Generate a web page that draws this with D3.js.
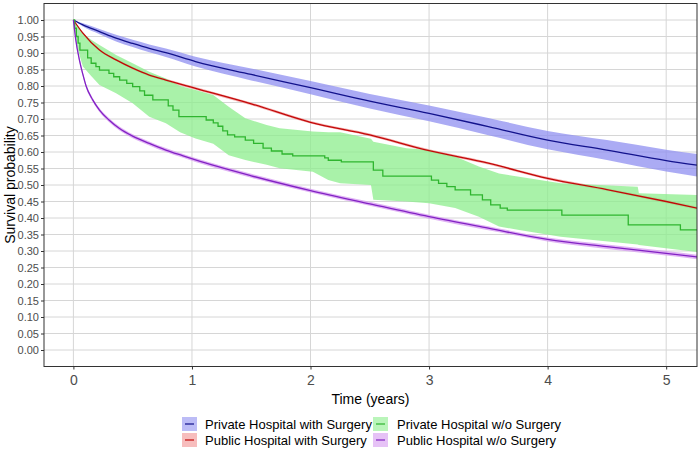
<!DOCTYPE html>
<html>
<head>
<meta charset="utf-8">
<script src="https://cdn.jsdelivr.net/npm/d3@7"></script>
<style>
  body { margin: 0; background: #fff; }
  text { font-family: Arial, "Liberation Sans", sans-serif; }
</style>
</head>
<body>
<script>
// ---- data ----
const xTicks = [0, 1, 2, 3, 4, 5];
const yTicks = [0, 0.05, 0.1, 0.15, 0.2, 0.25, 0.3, 0.35, 0.4, 0.45, 0.5,
                0.55, 0.6, 0.65, 0.7, 0.75, 0.8, 0.85, 0.9, 0.95, 1];

const seriesNames = ["Private Hospital with Surgery", "Public Hospital with Surgery",
                     "Private Hospital w/o Surgery", "Public Hospital w/o Surgery"];

// private hospital with surgery
const privSurgT  = [0, 0.08, 0.22, 0.36, 0.5, 0.64, 0.78, 1.03, 1.5, 2, 2.5, 3, 3.5, 4, 4.5, 5, 5.26];
const privSurgS  = [1, 0.985, 0.965, 0.945, 0.929, 0.914, 0.901, 0.874, 0.835, 0.795, 0.754, 0.717, 0.677, 0.636, 0.606, 0.574, 0.56];
const privSurgLo = [1, 0.980, 0.957, 0.935, 0.918, 0.902, 0.888, 0.859, 0.817, 0.775, 0.732, 0.693, 0.651, 0.608, 0.576, 0.541, 0.526];
const privSurgHi = [1, 0.990, 0.973, 0.955, 0.940, 0.926, 0.914, 0.889, 0.853, 0.815, 0.776, 0.741, 0.703, 0.664, 0.636, 0.607, 0.594];

// public hospital with surgery
const pubSurgT  = [0, 0.08, 0.22, 0.36, 0.5, 0.64, 0.78, 1.03, 1.5, 2, 2.5, 3, 3.5, 4, 4.5, 5, 5.26];
const pubSurgS  = [1, 0.96, 0.909, 0.879, 0.854, 0.833, 0.818, 0.793, 0.746, 0.69, 0.652, 0.604, 0.566, 0.52, 0.486, 0.45, 0.43];
const pubSurgLo = [1, 0.957, 0.905, 0.875, 0.850, 0.829, 0.814, 0.789, 0.742, 0.686, 0.648, 0.600, 0.562, 0.516, 0.482, 0.445, 0.425];
const pubSurgHi = [1, 0.963, 0.913, 0.883, 0.858, 0.837, 0.822, 0.797, 0.750, 0.694, 0.656, 0.608, 0.570, 0.524, 0.490, 0.455, 0.435];

// private hospital without surgery (step curve)
const privNoT = [0, 0.01, 0.025, 0.04, 0.055, 0.12, 0.15, 0.19, 0.22, 0.3, 0.34, 0.39, 0.45, 0.5, 0.56,
                 0.6, 0.67, 0.8, 0.84, 0.89, 1.12, 1.18, 1.22, 1.26, 1.3, 1.36, 1.45, 1.52, 1.6, 1.67,
                 1.76, 1.85, 2.12, 2.15, 2.26, 2.53, 2.61, 3.02, 3.08, 3.15, 3.22, 3.35, 3.45, 3.52,
                 3.6, 3.66, 4.12, 4.68, 5.12, 5.26];
const privNoS = [1, 0.975, 0.95, 0.93, 0.909, 0.885, 0.869, 0.859, 0.848, 0.838, 0.828, 0.818, 0.808, 0.798, 0.785,
                 0.772, 0.758, 0.74, 0.727, 0.707, 0.697, 0.688, 0.678, 0.664, 0.652, 0.646, 0.636, 0.626, 0.612, 0.603,
                 0.594, 0.588, 0.582, 0.575, 0.57, 0.545, 0.527, 0.515, 0.505, 0.495, 0.485, 0.47, 0.455, 0.44,
                 0.43, 0.424, 0.409, 0.379, 0.364, 0.364];
const privNoBandT = [0, 0.03, 0.08, 0.15, 0.22, 0.36, 0.5, 0.64, 0.78, 0.9, 1.03, 1.18, 1.31, 1.45, 1.63, 1.74,
                     2.02, 2.15, 2.25, 2.51, 2.53, 2.81, 3.0, 3.22, 3.42, 3.59, 3.76, 4.11, 4.76, 4.77, 5.26];
const privNoHi = [1, 0.985, 0.96, 0.94, 0.924, 0.894, 0.869, 0.843, 0.823, 0.80, 0.788, 0.773, 0.737, 0.702, 0.682, 0.672,
                  0.662, 0.66, 0.66, 0.64, 0.631, 0.611, 0.606, 0.586, 0.556, 0.535, 0.525, 0.505, 0.495, 0.475, 0.47];
const privNoLo = [1, 0.92, 0.859, 0.83, 0.803, 0.778, 0.748, 0.707, 0.687, 0.66, 0.641, 0.625, 0.59, 0.576, 0.561, 0.551,
                  0.54, 0.515, 0.505, 0.50, 0.455, 0.45, 0.445, 0.43, 0.404, 0.374, 0.364, 0.343, 0.32, 0.318, 0.297];

// public hospital without surgery
const pubNoT  = [0, 0.02, 0.05, 0.08, 0.107, 0.163, 0.22, 0.3, 0.386, 0.5, 0.64, 0.78, 0.92, 1.03,
                 1.5, 2, 2.5, 3, 3.5, 4, 4.5, 5, 5.26];
const pubNoS  = [1, 0.94, 0.88, 0.835, 0.80, 0.758, 0.727, 0.697, 0.672, 0.648, 0.626, 0.606, 0.589, 0.576,
                 0.528, 0.483, 0.443, 0.404, 0.369, 0.335, 0.313, 0.293, 0.282];
const pubNoLo = [1, 0.935, 0.874, 0.829, 0.794, 0.752, 0.721, 0.691, 0.666, 0.642, 0.620, 0.600, 0.583, 0.570,
                 0.522, 0.477, 0.437, 0.398, 0.363, 0.329, 0.306, 0.286, 0.275];
const pubNoHi = [1, 0.945, 0.886, 0.841, 0.806, 0.764, 0.733, 0.703, 0.678, 0.654, 0.632, 0.612, 0.595, 0.582,
                 0.534, 0.489, 0.449, 0.410, 0.375, 0.341, 0.320, 0.300, 0.289];

// ---- layout ----
const W = 700, H = 452;
const panel = { left: 44, right: 697, top: 3.5, bottom: 366.5 };

const svg = d3.select("body").append("svg")
    .attr("width", W)
    .attr("height", H);

const x = d3.scaleLinear().domain([-0.248, 5.26]).range([panel.left, panel.right]);
const y = d3.scaleLinear().domain([-0.05, 1.05]).range([panel.bottom, panel.top]);

// grid
const grid = svg.append("g");
grid.selectAll("line.h").data(yTicks).enter().append("line")
    .attr("x1", panel.left).attr("x2", panel.right)
    .attr("y1", d => y(d)).attr("y2", d => y(d))
    .attr("stroke", "#d6d6d6").attr("stroke-width", 1);
grid.selectAll("line.v").data(xTicks).enter().append("line")
    .attr("y1", panel.top).attr("y2", panel.bottom)
    .attr("x1", d => x(d)).attr("x2", d => x(d))
    .attr("stroke", "#d6d6d6").attr("stroke-width", 1);

svg.append("clipPath").attr("id", "clip")
    .append("rect")
    .attr("x", panel.left).attr("y", panel.top)
    .attr("width", panel.right - panel.left).attr("height", panel.bottom - panel.top);

const plot = svg.append("g").attr("clip-path", "url(#clip)");

function zip(t, a, b) {
    return t.map((v, i) => ({ t: v, a: a[i], b: b ? b[i] : null }));
}

const groups = [
    { t: privSurgT, s: privSurgS, lo: privSurgLo, hi: privSurgHi, bt: privSurgT,
      line: "#12128c", band: "#8f8ff0", op: 0.75, step: false },
    { t: pubSurgT, s: pubSurgS, lo: pubSurgLo, hi: pubSurgHi, bt: pubSurgT,
      line: "#c20808", band: "#f08a8a", op: 0.7, step: false },
    { t: privNoT, s: privNoS, lo: privNoLo, hi: privNoHi, bt: privNoBandT,
      line: "#2fb52f", band: "#8cee8c", op: 0.75, step: true },
    { t: pubNoT, s: pubNoS, lo: pubNoLo, hi: pubNoHi, bt: pubNoT,
      line: "#8222c4", band: "#d69af0", op: 0.75, step: false }
];

groups.forEach(g => {
    const curve = g.step ? d3.curveLinear : d3.curveMonotoneX;
    const area = d3.area()
        .curve(curve)
        .x(d => x(d.t))
        .y0(d => y(d.a))
        .y1(d => y(d.b));
    plot.append("path")
        .datum(zip(g.bt, g.lo, g.hi))
        .attr("d", area)
        .attr("fill", g.band)
        .attr("fill-opacity", g.op);
});

groups.forEach(g => {
    const curve = g.step ? d3.curveStepAfter : d3.curveMonotoneX;
    const line = d3.line()
        .curve(curve)
        .x(d => x(d.t))
        .y(d => y(d.a));
    plot.append("path")
        .datum(zip(g.t, g.s))
        .attr("d", line)
        .attr("fill", "none")
        .attr("stroke", g.line)
        .attr("stroke-width", 1.3);
});

// panel border
svg.append("rect")
    .attr("x", panel.left).attr("y", panel.top)
    .attr("width", panel.right - panel.left).attr("height", panel.bottom - panel.top)
    .attr("fill", "none").attr("stroke", "#333").attr("stroke-width", 1);

// axes
const yAxis = svg.append("g")
    .attr("transform", `translate(${panel.left},0)`)
    .call(d3.axisLeft(y).tickValues(yTicks).tickFormat(d3.format(".2f")).tickSize(3).tickPadding(2));
yAxis.select(".domain").remove();
yAxis.selectAll(".tick line").attr("stroke", "#333");
yAxis.selectAll(".tick text").attr("fill", "#4d4d4d").style("font-size", "11px")
    .style("font-family", "Arial, 'Liberation Sans', sans-serif");

const xAxis = svg.append("g")
    .attr("transform", `translate(0,${panel.bottom})`)
    .call(d3.axisBottom(x).tickValues(xTicks).tickFormat(d3.format("d")).tickSize(3).tickPadding(6));
xAxis.select(".domain").remove();
xAxis.selectAll(".tick line").attr("stroke", "#333");
xAxis.selectAll(".tick text").attr("fill", "#4d4d4d").style("font-size", "14px")
    .style("font-family", "Arial, 'Liberation Sans', sans-serif");

// titles
svg.append("text")
    .attr("x", (panel.left + panel.right) / 2).attr("y", 404)
    .attr("text-anchor", "middle")
    .style("font-size", "14px")
    .text("Time (years)");

svg.append("text")
    .attr("transform", `translate(15,${(panel.top + panel.bottom) / 2}) rotate(-90)`)
    .attr("text-anchor", "middle")
    .style("font-size", "14px")
    .text("Survival probability");

// legend: column-major, two rows
const legendPos = [
    { kx: 182, ky: 417, tx: 205 },
    { kx: 182, ky: 433, tx: 205 },
    { kx: 373, ky: 417, tx: 397 },
    { kx: 373, ky: 433, tx: 397 }
];
const legend = svg.append("g");
groups.forEach((g, i) => {
    const p = legendPos[i];
    legend.append("rect")
        .attr("x", p.kx).attr("y", p.ky)
        .attr("width", 15).attr("height", 14)
        .attr("fill", g.band).attr("fill-opacity", g.op * 0.8);
    legend.append("line")
        .attr("x1", p.kx + 3).attr("x2", p.kx + 12)
        .attr("y1", p.ky + 7).attr("y2", p.ky + 7)
        .attr("stroke", g.line).attr("stroke-width", 1.2);
    legend.append("text")
        .attr("x", p.tx).attr("y", p.ky + 7)
        .attr("dy", "0.36em")
        .style("font-size", "13px")
        .text(seriesNames[i]);
});
</script>
</body>
</html>
